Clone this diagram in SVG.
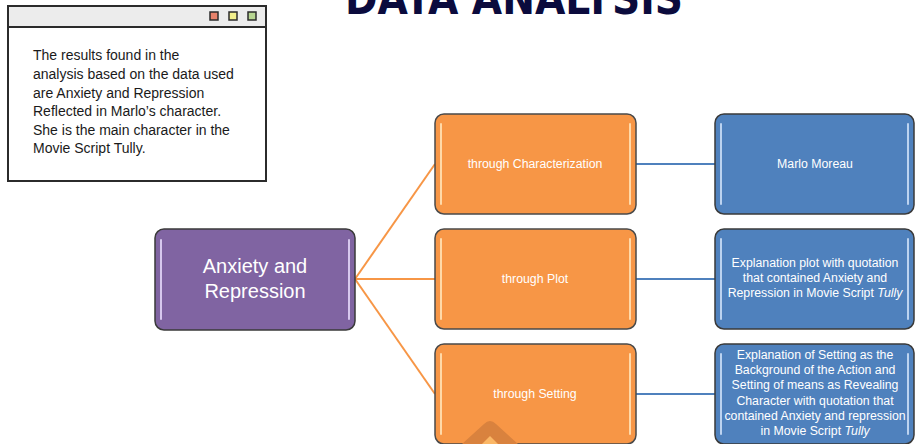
<svg xmlns="http://www.w3.org/2000/svg" width="916" height="444" viewBox="0 0 916 444">
<defs>
<style>
.win{fill:#ffffff;stroke:#2b2b2b;stroke-width:2}
.bar{fill:#ececec;stroke:#2b2b2b;stroke-width:2}
.wt{font-family:"Liberation Sans",Arial,sans-serif;font-size:14px;fill:#1a1a1a}
.purple{fill:#8064a2;stroke:#3a3a3a;stroke-width:1.5}
.orange{fill:#f79646;stroke:#4a4a4a;stroke-width:1.5}
.blue{fill:#4f81bd;stroke:#3a3a3a;stroke-width:1.5}
.hlo{stroke:#ffd9a8;stroke-width:2;stroke-linecap:round}
.hlb{stroke:#bcd3f0;stroke-width:2;stroke-linecap:round}
.hlp{stroke:#d7c8ee;stroke-width:2;stroke-linecap:round}
.nt{font-family:"Liberation Sans",Arial,sans-serif;font-size:12.3px;fill:#ffffff;text-anchor:middle}
.big{font-family:"Liberation Sans",Arial,sans-serif;font-size:20px;fill:#ffffff;text-anchor:middle}
.co{stroke:#f79646;stroke-width:2;fill:none}
.cb{stroke:#4f81bd;stroke-width:2;fill:none}
</style>
</defs>
<rect width="916" height="444" fill="#ffffff"/>
<text x="514" y="14" font-family="'DejaVu Sans Condensed','DejaVu Sans',sans-serif" font-weight="bold" font-size="44" fill="#0b0b3d" text-anchor="middle" textLength="338" lengthAdjust="spacingAndGlyphs">DATA ANALYSIS</text>

<g id="note">
<rect class="win" x="8" y="6" width="258" height="175"/>
<rect class="bar" x="8" y="6" width="258" height="21"/>
<rect x="210" y="12" width="8" height="8" fill="#e8826b" stroke="#2b2b2b" stroke-width="1.5"/>
<rect x="229" y="12" width="8" height="8" fill="#f2ef8c" stroke="#2b2b2b" stroke-width="1.5"/>
<rect x="248" y="12" width="8" height="8" fill="#b7d591" stroke="#2b2b2b" stroke-width="1.5"/>
<text class="wt" x="33" y="60">The results found in the</text>
<text class="wt" x="33" y="79">analysis based on the data used</text>
<text class="wt" x="33" y="98">are Anxiety and Repression</text>
<text class="wt" x="33" y="116">Reflected in Marlo’s character.</text>
<text class="wt" x="33" y="135">She is the main character in the</text>
<text class="wt" x="33" y="153">Movie Script Tully.</text>
</g>

<g id="connectors">
<line class="co" x1="355" y1="279" x2="435" y2="164"/>
<line class="co" x1="355" y1="279" x2="435" y2="279"/>
<line class="co" x1="355" y1="279" x2="435" y2="394"/>
<line class="cb" x1="636" y1="164" x2="715" y2="164"/>
<line class="cb" x1="636" y1="279" x2="715" y2="279"/>
<line class="cb" x1="636" y1="394" x2="715" y2="394"/>
</g>

<g id="root">
<rect class="purple" x="155" y="229" width="200" height="101" rx="9"/>
<line class="hlp" x1="161" y1="240" x2="161" y2="319"/>
<line class="hlp" x1="349" y1="240" x2="349" y2="319"/>
<text class="big" x="255" y="273">Anxiety and</text>
<text class="big" x="255" y="298">Repression</text>
</g>

<g id="characterization">
<rect class="orange" x="435" y="114" width="201" height="100" rx="9"/>
<line class="hlo" x1="441" y1="124" x2="441" y2="204"/>
<line class="hlo" x1="630" y1="124" x2="630" y2="204"/>
<text class="nt" x="535" y="168">through Characterization</text>
</g>

<g id="plot">
<rect class="orange" x="435" y="229" width="201" height="100" rx="9"/>
<line class="hlo" x1="441" y1="239" x2="441" y2="319"/>
<line class="hlo" x1="630" y1="239" x2="630" y2="319"/>
<text class="nt" x="535" y="283">through Plot</text>
</g>

<g id="setting">
<rect class="orange" x="435" y="344" width="201" height="100" rx="9"/>
<line class="hlo" x1="441" y1="354" x2="441" y2="434"/>
<line class="hlo" x1="630" y1="354" x2="630" y2="434"/>
<text class="nt" x="535" y="398">through Setting</text>
<path d="M462 444 L484 424 Q490 418 496 424 L518 444 Z" fill="#d9823e"/>
<path d="M482 444 L490 436 L498 444 Z" fill="#fbb766"/>
</g>

<g id="marlo">
<rect class="blue" x="715" y="114" width="199" height="100" rx="9"/>
<line class="hlb" x1="721" y1="124" x2="721" y2="204"/>
<line class="hlb" x1="908" y1="124" x2="908" y2="204"/>
<text class="nt" x="815" y="168">Marlo Moreau</text>
</g>

<g id="plotExplanation">
<rect class="blue" x="715" y="229" width="199" height="100" rx="9"/>
<line class="hlb" x1="721" y1="239" x2="721" y2="319"/>
<line class="hlb" x1="908" y1="239" x2="908" y2="319"/>
<text class="nt" x="815" y="267">Explanation plot with quotation</text>
<text class="nt" x="815" y="282">that contained Anxiety and</text>
<text class="nt" x="815" y="297">Repression in Movie Script <tspan font-style="italic">Tully</tspan></text>
</g>

<g id="settingExplanation">
<rect class="blue" x="715" y="344" width="199" height="100" rx="9"/>
<line class="hlb" x1="721" y1="354" x2="721" y2="434"/>
<line class="hlb" x1="908" y1="354" x2="908" y2="434"/>
<text class="nt" x="815" y="359">Explanation of Setting as the</text>
<text class="nt" x="815" y="374">Background of the Action and</text>
<text class="nt" x="815" y="389">Setting of means as Revealing</text>
<text class="nt" x="815" y="405">Character with quotation that</text>
<text class="nt" x="815" y="420">contained Anxiety and repression</text>
<text class="nt" x="815" y="435">in Movie Script <tspan font-style="italic">Tully</tspan></text>
</g>
</svg>
